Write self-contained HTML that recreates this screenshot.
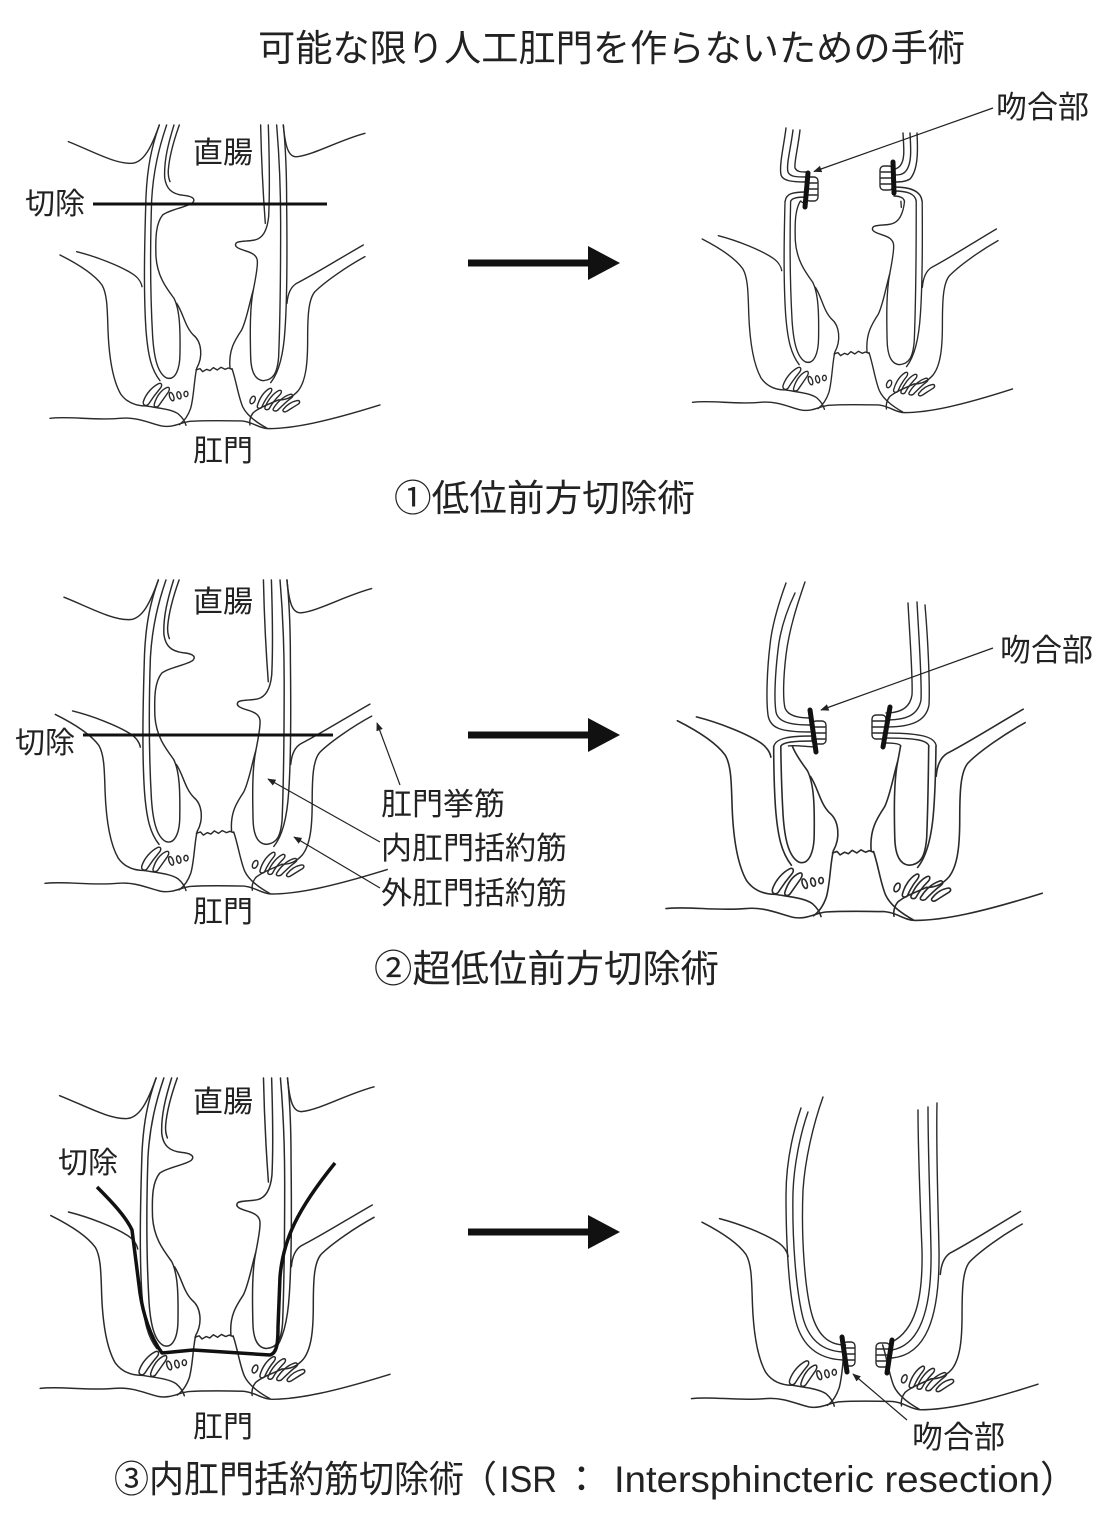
<!DOCTYPE html>
<html><head><meta charset="utf-8"><style>
html,body{margin:0;padding:0;background:#fff}
body{width:1110px;height:1515px;overflow:hidden}
svg{display:block;font-family:"Liberation Sans","Noto Sans CJK JP",sans-serif}
.t{fill:#222}
.j{font-family:"Noto Sans CJK JP",sans-serif}
.l{font-family:"Liberation Sans",sans-serif}
</style></head><body>
<svg width="1110" height="1515" viewBox="0 0 1110 1515" xmlns="http://www.w3.org/2000/svg">
<defs>
<marker id="ah" viewBox="0 0 10 10" refX="9" refY="5" markerWidth="7" markerHeight="7" orient="auto"><path d="M0,1 L10,5 L0,9 Z" fill="#222"/></marker>
<g id="rect" fill="none" stroke="#2a2a2a" stroke-width="4.2" stroke-linejoin="round" stroke-linecap="round">
<path d="M145,155 C220,185 285,222 335,220 C372,218 395,170 418,105"/>
<path d="M1035,130 C960,150 880,195 832,200 C805,203 796,170 790,105"/>
<path d="M418,105 C395,170 382,230 378,320 C374,450 370,600 378,720 C384,800 395,840 420,872"/>
<path d="M440,105 C418,170 400,240 395,330 C391,450 390,600 398,740 C402,800 412,850 440,864 C465,872 480,840 480,790 C481,720 480,660 462,625 C440,595 412,560 408,500 C406,440 408,400 428,375 C450,358 500,352 518,338 C530,325 512,318 490,316 C455,312 438,296 434,262 C432,210 445,160 462,105"/>
<path d="M478,105 C462,150 448,200 445,240 C444,255 446,265 450,275"/>
<path d="M470,640 C490,670 495,710 520,735 C545,755 550,800 530,835"/>
<path d="M790,105 C798,180 800,260 800,340 C802,500 800,650 795,720 C790,800 775,850 752,878"/>
<path d="M770,105 C778,200 782,300 782,400 C782,550 780,700 776,800 C772,850 760,870 730,872 C705,870 693,845 692,800 C690,720 690,650 700,600 C706,570 714,530 712,512 C710,495 695,488 675,482 C655,476 642,470 648,460 C654,452 680,455 705,450 C730,444 742,420 746,380 C750,300 748,200 745,105"/>
<path d="M722,105 C724,200 730,320 736,400"/>
<path d="M700,600 C688,640 680,690 665,720 C645,750 625,780 630,835"/>
<path d="M528,840 L540,836 L548,845 L560,838 L570,842 L580,833 L592,840 L603,832 L615,838 L625,834 L636,838"/>
</g>
<g id="lev" fill="none" stroke="#2a2a2a" stroke-width="4.2" stroke-linejoin="round" stroke-linecap="round">
<path d="M120,495 C170,520 222,552 246,585 C262,612 262,660 264,720 C267,800 278,870 302,912 C322,940 350,948 378,948"/>
<path d="M170,485 C230,500 300,528 335,550 C355,562 364,578 366,590"/>
<path d="M1035,500 C980,530 915,575 885,605 C865,628 863,680 863,750 C863,820 858,872 835,902 C815,925 795,930 775,930"/>
<path d="M1030,465 C960,505 880,555 830,580 C810,592 803,615 801,640"/>
<path d="M378,948 C420,955 455,958 475,972 C490,985 496,998 498,1006"/>
<path d="M530,836 C522,870 522,920 512,955 C505,975 495,992 478,1004"/>
<path d="M636,836 C648,870 655,920 668,950 C680,975 705,995 740,1014"/>
<path d="M775,930 C740,945 715,955 700,968 C690,980 688,995 690,1005"/>
<path d="M90,985 C150,978 220,992 300,985 C350,980 390,1000 425,1008 C460,1014 480,998 510,994 C560,991 620,992 665,993 C700,996 715,1015 745,1016 C820,1016 920,995 1080,945"/>
<path d="M370,935 C378,910 398,890 416,881 C426,877 428,887 420,896 C408,910 395,928 386,942 C380,950 368,947 370,935 Z"/>
<path d="M403,942 C410,918 424,900 440,893 C450,889 450,899 444,908 C434,922 424,936 417,946 C411,954 400,952 403,942 Z"/>
<ellipse cx="455" cy="920" rx="6" ry="13" transform="rotate(-20 455 920)"/>
<ellipse cx="477" cy="916" rx="6" ry="11" transform="rotate(-15 477 916)"/>
<ellipse cx="498" cy="912" rx="6" ry="8"/>
<ellipse cx="698" cy="930" rx="7" ry="12" transform="rotate(25 698 930)"/>
<path d="M712,948 C718,925 732,905 748,896 C756,892 758,900 752,908 C742,920 732,936 726,950 C722,958 710,956 712,948 Z"/>
<path d="M735,952 C744,930 760,910 776,902 C785,898 787,906 780,914 C768,926 756,940 749,954 C745,962 732,960 735,952 Z"/>
<path d="M760,956 C772,936 790,920 808,914 C818,910 822,918 814,924 C800,934 786,948 776,958 C770,966 756,964 760,956 Z"/>
<path d="M790,958 C800,945 815,935 830,932 C840,930 842,938 834,943 C822,950 810,958 800,964 C793,968 786,964 790,958 Z"/>
</g>
<clipPath id="c1"><rect x="640" y="200.7" width="470" height="320"/></clipPath>
<clipPath id="c2"><rect x="640" y="745.6" width="470" height="260"/></clipPath>
</defs>

<!-- Title -->
<text class="t" x="258" y="61" font-size="37" textLength="707" lengthAdjust="spacingAndGlyphs">可能な限り人工肛門を作らないための手術</text>

<!-- ROW 1 LEFT -->
<use href="#rect" transform="matrix(0.3333,0,0,0.3333,20,90)"/>
<use href="#lev" transform="matrix(0.3333,0,0,0.3333,20,90)"/>
<line x1="93" y1="204" x2="327" y2="204" stroke="#111" stroke-width="3"/>
<text class="t" x="193" y="163" font-size="30">直腸</text>
<text class="t" x="25" y="214" font-size="30">切除</text>
<text class="t" x="193" y="461" font-size="30">肛門</text>

<!-- Arrow 1 -->
<rect x="468" y="259.5" width="122" height="7" fill="#111"/>
<path d="M588,246 L620,263 L588,280 Z" fill="#111"/>

<!-- ROW 1 RIGHT -->
<g clip-path="url(#c1)"><use href="#rect" transform="matrix(0.3233,0,0,0.3333,663.4,74)"/></g>
<use href="#lev" transform="matrix(0.3233,0,0,0.3333,663.4,74)"/>
<g fill="none" stroke="#2a2a2a" stroke-width="1.4" stroke-linecap="round">
<path d="M786,128 C784,145 779,165 781,175 C783,181 792,182 806,182"/>
<path d="M793,130 C791,147 786,165 788,172 C790,177 797,177 806,177"/>
<path d="M800,130 C798,148 794,163 795,168 C797,172 801,172 806,172"/>
<path d="M806,192 C792,192 786,194 785.3,201"/>
<path d="M806,197 C797,197 792,198 790.8,201"/>
<path d="M806,203 C803,203 801,202 800.8,201"/>
<rect x="806" y="177" width="12" height="24" rx="4"/>
<path d="M806,183 H817 M806,189 H818 M806,195 H817"/>
<path d="M903,133 C904,150 905,160 900,166 C898,168 896,169 894,169"/>
<path d="M910,133 C911,150 912,165 905,172 C902,175 898,175 894,175"/>
<path d="M917,133 C918,152 918,170 910,179 C905,182 900,182 894,182"/>
<path d="M894,187 C912,187 921,192 922,201"/>
<path d="M894,191 C908,191 915,194 916.2,201"/>
<path d="M894,196 C900,196 904,198 904.3,201"/>
<rect x="880" y="166" width="13" height="24" rx="4"/>
<path d="M881,172 H893 M880,178 H893 M881,184 H893"/>
</g>
<path d="M808,173 L805,207" stroke="#111" stroke-width="5" stroke-linecap="round"/>
<path d="M893,162 L894,193" stroke="#111" stroke-width="5" stroke-linecap="round"/>
<line x1="993" y1="108" x2="814" y2="171.5" stroke="#222" stroke-width="1.2" marker-end="url(#ah)"/>
<text class="t" x="996" y="118" font-size="31">吻合部</text>

<text class="t" x="394" y="511" font-size="37" textLength="301" lengthAdjust="spacingAndGlyphs">①低位前方切除術</text>

<!-- ROW 2 LEFT -->
<use href="#rect" transform="matrix(0.3457,0,0,0.3447,13.84,543.8)"/>
<use href="#lev" transform="matrix(0.3457,0,0,0.3447,13.84,543.8)"/>
<line x1="83" y1="735" x2="333" y2="735" stroke="#111" stroke-width="3"/>
<text class="t" x="193" y="612" font-size="30">直腸</text>
<text class="t" x="15" y="753" font-size="30">切除</text>
<text class="t" x="193" y="922" font-size="30">肛門</text>
<text class="t" x="381" y="815" font-size="31">肛門挙筋</text>
<text class="t" x="381" y="859" font-size="31">内肛門括約筋</text>
<text class="t" x="381" y="904" font-size="31">外肛門括約筋</text>
<g stroke="#222" stroke-width="1.2" fill="none">
<line x1="400" y1="785" x2="377" y2="723" marker-end="url(#ah)"/>
<line x1="380" y1="842" x2="268" y2="779" marker-end="url(#ah)"/>
<line x1="380" y1="888" x2="294" y2="837" marker-end="url(#ah)"/>
</g>

<!-- Arrow 2 -->
<rect x="468" y="731.5" width="122" height="7" fill="#111"/>
<path d="M588,718 L620,735 L588,752 Z" fill="#111"/>

<!-- ROW 2 RIGHT -->
<g clip-path="url(#c2)"><use href="#rect" transform="matrix(0.38,0,0,0.3833,631.8,531)"/></g>
<use href="#lev" transform="matrix(0.38,0,0,0.3833,631.8,531)"/>
<g fill="none" stroke="#2a2a2a" stroke-width="1.4" stroke-linecap="round">
<path d="M786,583 C778,605 772,625 770,645 C767,670 766,700 768,715 C770,728 780,732 810,732"/>
<path d="M795,593 C787,610 780,630 778,650 C775,675 774,700 776,712 C778,722 790,725 810,725"/>
<path d="M805,582 C797,605 789,630 786,655 C783,680 783,700 785,708 C788,716 798,718 810,718"/>
<path d="M812,736 C790,736 776,738 774,746"/>
<path d="M812,741 C795,741 783,742 781,746"/>
<path d="M814,747 C800,746 792,745 788.4,746"/>
<rect x="812" y="721" width="14" height="23" rx="4"/>
<path d="M812,727 H825 M812,733 H826 M812,739 H825"/>
<path d="M908,603 C910,640 913,680 912,695 C910,708 900,713 886,713"/>
<path d="M917,602 C919,640 922,680 921,700 C918,716 905,720 886,720"/>
<path d="M925,605 C928,640 930,685 929,705 C926,722 910,727 886,727"/>
<path d="M885,733 C922,733 935,737 936.2,746"/>
<path d="M885,738 C915,738 927,740 929,746"/>
<path d="M885,743 C895,743 900,744 900.8,746"/>
<rect x="872" y="715" width="14" height="24" rx="4"/>
<path d="M873,721 H886 M872,727 H886 M873,733 H886"/>
</g>
<path d="M810,710 L816,752" stroke="#111" stroke-width="5" stroke-linecap="round"/>
<path d="M890,707 L883,747" stroke="#111" stroke-width="5" stroke-linecap="round"/>
<line x1="993" y1="648" x2="821" y2="710" stroke="#222" stroke-width="1.2" marker-end="url(#ah)"/>
<text class="t" x="1000" y="661" font-size="31">吻合部</text>

<text class="t" x="374" y="982" font-size="38" textLength="345" lengthAdjust="spacingAndGlyphs">②超低位前方切除術</text>

<!-- ROW 3 LEFT -->
<use href="#rect" transform="matrix(0.3533,0,0,0.3527,8.4,1040.97)"/>
<use href="#lev" transform="matrix(0.3533,0,0,0.3527,8.4,1040.97)"/>
<path d="M97,1187 C113,1203 126,1217 132,1230 L140,1293 C143,1313 150,1337 162,1353 L193,1350 L270,1355 C277,1353 278,1343 278,1327 L280,1277 C283,1240 297,1210 335,1163" fill="none" stroke="#111" stroke-width="3.5" stroke-linejoin="round"/>
<text class="t" x="193" y="1112" font-size="30">直腸</text>
<text class="t" x="58" y="1173" font-size="30">切除</text>
<text class="t" x="193" y="1437" font-size="30">肛門</text>

<!-- Arrow 3 -->
<rect x="468" y="1228.5" width="122" height="7" fill="#111"/>
<path d="M588,1215 L620,1232 L588,1249 Z" fill="#111"/>

<!-- ROW 3 RIGHT -->
<use href="#lev" transform="matrix(0.35,0,0,0.36,660,1044)"/>
<g fill="none" stroke="#2a2a2a" stroke-width="1.4" stroke-linecap="round">
<path d="M823,1097 C813,1125 805,1160 803,1190 C801,1240 805,1290 812,1315 C818,1335 828,1344 843,1345"/>
<path d="M808,1112 C800,1135 794,1165 793,1192 C792,1240 796,1290 803,1318 C809,1340 823,1351 843,1352"/>
<path d="M801,1108 C792,1135 786,1165 786,1195 C786,1245 789,1295 796,1322 C803,1348 820,1359 843,1360"/>
<rect x="843" y="1342" width="12" height="24" rx="4"/>
<path d="M843,1348 H854 M843,1354 H855 M843,1360 H854"/>
<path d="M918,1110 C918,1150 920,1200 922,1250 C923,1300 915,1330 892,1342"/>
<path d="M928,1107 C928,1150 930,1200 931,1250 C932,1310 920,1345 892,1350"/>
<path d="M937,1103 C936,1150 938,1200 939,1250 C940,1320 925,1355 892,1358"/>
<rect x="876" y="1343" width="14" height="24" rx="4"/>
<path d="M877,1349 H890 M876,1355 H890 M877,1361 H890"/>
</g>
<path d="M842,1337 L847,1372" stroke="#111" stroke-width="5" stroke-linecap="round"/>
<path d="M892,1340 L887,1373" stroke="#111" stroke-width="5" stroke-linecap="round"/>
<line x1="907" y1="1420" x2="853" y2="1374" stroke="#222" stroke-width="1.2" marker-end="url(#ah)"/>
<text class="t" x="912" y="1448" font-size="31">吻合部</text>

<!-- Caption 3 split by font -->
<text class="t j" x="114" y="1492" font-size="37" textLength="350" lengthAdjust="spacingAndGlyphs">③内肛門括約筋切除術</text>
<text class="t j" x="460" y="1492" font-size="37">（</text>
<text class="t l" x="500" y="1492" font-size="37.5" textLength="57" lengthAdjust="spacingAndGlyphs">ISR</text>
<text class="t j" x="563" y="1492" font-size="37">：</text>
<text class="t l" x="614" y="1492" font-size="37.5" textLength="426" lengthAdjust="spacingAndGlyphs">Intersphincteric resection</text>
<text class="t j" x="1040" y="1492" font-size="37">）</text>
</svg>
</body></html>
